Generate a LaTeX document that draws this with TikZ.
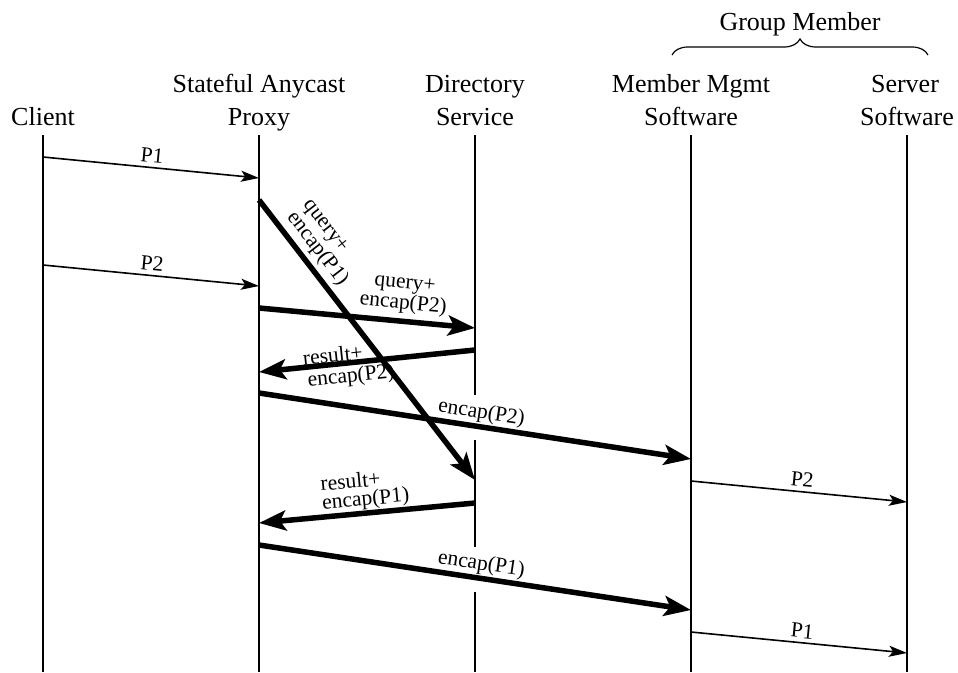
\documentclass[tikz,border=0pt]{standalone}
\usepackage{fontspec}
\setmainfont{Liberation Serif}
\usetikzlibrary{arrows.meta,decorations.pathreplacing}
\begin{document}
\begin{tikzpicture}[x=1pt,y=-1pt,
  life/.style={line width=1.2pt},
  thinmsg/.style={line width=1.6pt,-{Stealth[length=18pt,width=11pt,inset=4pt]}},
  thickmsg/.style={line width=5.5pt,-{Stealth[length=27pt,width=20pt,inset=6pt]}},
  hdr/.style={font=\fontsize{26}{32}\selectfont, anchor=base, inner sep=0pt},
  lbl/.style={font=\fontsize{21.5}{18.5}\selectfont, sloped, inner sep=2pt},
]
\useasboundingbox (0,0) rectangle (958,672);

% headers
\node[hdr] (clientB) at (43,125) {Client};
\node[hdr] (proxyA) at (259,92) {Stateful Anycast};
\node[hdr] (proxyB) at (259,125) {Proxy};
\node[hdr] (dirA) at (475,92) {Directory};
\node[hdr] (dirB) at (475,125) {Service};
\node[hdr] (mmA) at (691,92) {Member Mgmt};
\node[hdr] (mmB) at (691,125) {Software};
\node[hdr] (srvA) at (905,92) {Server};
\node[hdr] (srvB) at (907,125) {Software};
\node[hdr] (grp) at (800,30) {Group Member};
\coordinate (brL) at (672,55);
\coordinate (brR) at (928,55);
\draw[life, decorate, decoration={brace, amplitude=16pt}] (brL) -- (brR);

% lifelines
\coordinate (cT) at (43,135);  \coordinate (cB) at (43,672);
\coordinate (pT) at (259,135); \coordinate (pB) at (259,672);
\coordinate (dT) at (475,135); \coordinate (dG1) at (475,395);
\coordinate (dG2) at (475,440); \coordinate (dG3) at (475,547);
\coordinate (dG4) at (475,592); \coordinate (dB) at (475,672);
\coordinate (mT) at (691,135); \coordinate (mB) at (691,672);
\coordinate (sT) at (907,135); \coordinate (sB) at (907,672);
\draw[life] (cT) -- (cB);
\draw[life] (pT) -- (pB);
\draw[life] (dT) -- (dG1);
\draw[life] (dG2) -- (dG3);
\draw[life] (dG4) -- (dB);
\draw[life] (mT) -- (mB);
\draw[life] (sT) -- (sB);

% message end points
\coordinate (m1s) at (43,157);  \coordinate (m1e) at (259,178);
\coordinate (m2s) at (43,265);  \coordinate (m2e) at (259,286);
\coordinate (m3s) at (259,200); \coordinate (m3e) at (475,480);
\coordinate (m4s) at (259,308); \coordinate (m4e) at (475,328);
\coordinate (m5s) at (475,350); \coordinate (m5e) at (259,372);
\coordinate (m6s) at (259,393); \coordinate (m6e) at (691,459);
\coordinate (m7s) at (691,481); \coordinate (m7e) at (907,502);
\coordinate (m8s) at (475,503); \coordinate (m8e) at (259,523);
\coordinate (m9s) at (259,545); \coordinate (m9e) at (691,610);
\coordinate (m10s) at (691,632); \coordinate (m10e) at (907,653);

% messages
\draw[thinmsg] (m1s) -- node[lbl, above, inner sep=4pt, pos=0.5] {P1} (m1e);
\draw[thinmsg] (m2s) -- node[lbl, above, inner sep=4pt, pos=0.5] {P2} (m2e);
\draw[thickmsg] (m3s) -- node[lbl, above, align=left, inner sep=4pt, pos=0.21] {query+\\encap(P1)} (m3e);
\draw[thickmsg] (m4s) -- node[lbl, above, align=center, inner sep=5pt, pos=0.66] {query+\\encap(P2)} (m4e);
\draw[thickmsg] (m5s) -- (m5e);
\path (m5e) -- node[lbl, anchor=south west, inner sep=1.5pt, pos=0.2] {result+} (m5s);
\path (m5e) -- node[lbl, anchor=north west, inner sep=4pt, pos=0.2] {encap(P2)} (m5s);
\draw[thickmsg] (m6s) -- node[lbl, above, inner sep=1pt, pos=0.51] {encap(P2)} (m6e);
\draw[thinmsg] (m7s) -- node[lbl, above, inner sep=4pt, pos=0.51] {P2} (m7e);
\draw[thickmsg] (m8s) -- (m8e);
\path (m8e) -- node[lbl, above, align=left, inner sep=3pt, pos=0.5] {result+\\encap(P1)} (m8s);
\draw[thickmsg] (m9s) -- node[lbl, above, inner sep=1pt, pos=0.51] {encap(P1)} (m9e);
\draw[thinmsg] (m10s) -- node[lbl, above, inner sep=4pt, pos=0.51] {P1} (m10e);
\end{tikzpicture}
\end{document}
